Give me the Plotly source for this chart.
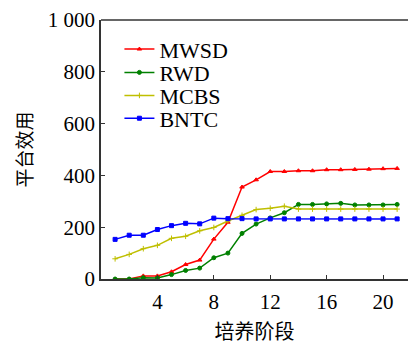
import plotly.graph_objects as go

stages = list(range(1, 22))
mwsd = [0, 0, 12, 12, 28, 56, 73, 154, 219, 355, 383, 415, 415, 418, 418, 422, 422, 423, 424, 426, 427]
rwd = [0, 0, 5, 4, 17, 33, 42, 82, 100, 176, 212, 236, 256, 288, 288, 290, 292, 286, 286, 286, 288]
mcbs = [78, 95, 117, 130, 157, 165, 186, 199, 224, 246, 268, 273, 281, 270, 270, 270, 270, 270, 270, 270, 270]
bntc = [153, 169, 169, 191, 206, 215, 213, 235, 233, 233, 232, 232, 232, 232, 232, 232, 232, 232, 232, 232, 232]

names = ["MWSD", "RWD", "MCBS", "BNTC"]
colors = ["#ff0000", "#008000", "#bfbf00", "#0000ff"]
symbols = ["triangle-up", "circle", "cross-thin", "square"]
series = [mwsd, rwd, mcbs, bntc]

y_ticks = [0, 200, 400, 600, 800, 1000]
y_tick_text = ["0", "200", "400", "600", "800", "1 000"]
x_ticks = [4, 8, 12, 16, 20]

serif = "Liberation Serif, DejaVu Serif, serif"
cjk = "Noto Sans CJK SC"

legend_ids = ["legend", "legend2", "legend3", "legend4"]
legend_y = [0.887, 0.797, 0.708, 0.620]

fig = go.Figure()
for name, vals, c, s, lid in zip(names, series, colors, symbols, legend_ids):
    fig.add_trace(go.Scatter(
        x=stages, y=vals, name=name, mode="lines+markers",
        line=dict(color=c, width=1.5),
        marker=dict(symbol=s, size=4, color=c, line=dict(color=c, width=1)),
        legend=lid,
    ))

legend_layout = {}
for lid, ly in zip(legend_ids, legend_y):
    legend_layout[lid] = dict(x=0.06, y=ly, xanchor="left", yanchor="middle",
                              bgcolor="rgba(0,0,0,0)", borderwidth=0,
                              font=dict(family=serif, size=22, color="black"),
                              itemwidth=30)

fig.update_layout(
    width=408, height=345,
    margin=dict(l=101, r=0, t=20, b=66, autoexpand=False),
    plot_bgcolor="white", paper_bgcolor="white",
    font=dict(family=serif, size=21, color="black"),
    showlegend=True,
    xaxis=dict(range=[0, 21.77], tickmode="array", tickvals=x_ticks,
               ticks="inside", ticklen=4, tickcolor="#333", showgrid=False,
               zeroline=False, showline=True, linecolor="#333", linewidth=1.5,
               automargin=False, ticklabelstandoff=3,
               title=dict(text="培养阶段", font=dict(family=cjk, size=20), standoff=12),
               tickfont=dict(family=serif, size=21)),
    yaxis=dict(range=[0, 1000], tickmode="array", tickvals=y_ticks, ticktext=y_tick_text,
               ticks="inside", ticklen=4, tickcolor="#333", showgrid=False,
               zeroline=False, showline=True, linecolor="#333", linewidth=1.5,
               automargin=False,
               title=dict(text="平台效用", font=dict(family=cjk, size=19), standoff=10),
               tickfont=dict(family=serif, size=21)),
    shapes=[dict(type="line", xref="paper", yref="paper", x0=0, x1=1, y0=1, y1=1,
                 line=dict(color="#333", width=1.5))],
    **legend_layout,
)
fig.write_html("out.html", config={"displayModeBar": False},
               post_script="document.body.style.margin='0';")
